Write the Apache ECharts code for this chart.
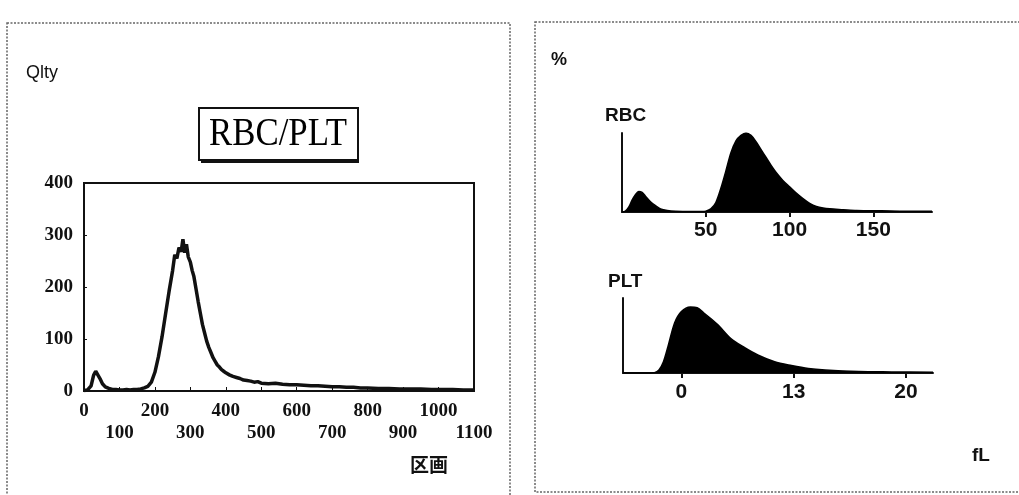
<!DOCTYPE html>
<html><head><meta charset="utf-8">
<script src="https://cdn.jsdelivr.net/npm/echarts@6/dist/echarts.min.js"></script>
<style>html,body{margin:0;padding:0;background:#fff}#c{width:1019px;height:495px}</style>
</head><body><div id="c"></div>
<script>
// Left histogram (RBC/PLT, channel vs quantity)
const LEFT_X = [0,10,20,27,33,38,45,52,60,70,80,90,100,110,120,130,140,150,160,170,180,190,200,210,220,230,240,250,256,262,268,274,279,284,289,294,300,305,310,316,322,328,334,340,346,352,358,364,370,376,382,388,394,400,410,420,430,440,450,460,470,480,490,500,520,540,560,580,600,620,640,660,680,700,720,740,760,780,800,830,860,890,920,950,980,1010,1040,1070,1100];
const LEFT_Y = [1,2,10,30,38,36,24,14,8,5,3,3,2,2,3,2,3,3,4,6,9,17,36,66,104,148,192,232,262,255,276,268,292,266,282,258,248,232,220,196,172,150,128,112,96,84,74,64,57,50,46,41,38,35,31,28,26,24,21,20,19,17,18,15,14,15,13,12,12,11,10,10,9,8,8,7,7,6,6,5,5,4,4,4,3,3,3,2,2];
const LEFT_X_MIN = 0, LEFT_X_MAX = 1100, LEFT_X_STEP = 100;
const LEFT_X_LABELS_UPPER = [0,200,400,600,800,1000];
const LEFT_X_LABELS_LOWER = [100,300,500,700,900,1100];
const LEFT_Y_MIN = 0, LEFT_Y_MAX = 400, LEFT_Y_STEP = 100;

// Right top: RBC distribution (fL vs %)
const RBC_X = [0,2,4,6,8,10,12,14,17,20,23,27,32,40,48,50,53,56,59,62,65,68,71,74,77,80,83,86,89,92,96,100,104,108,112,116,120,124,132,140,155,170,185];
const RBC_Y = [0,1,6,15,22,26,25,20,13,8,4,2,1,0.5,0.5,1,4,12,30,52,75,90,97,100,97,89,79,69,59,50,40,32,24,17,11,7,5,4,3,2,1.5,1,1];
const RBC_TICKS = [50,100,150];

// Right bottom: PLT distribution
const PLT_X = [-5.2,-3,-2.4,-2,-1.6,-1.2,-0.6,0,0.8,1.4,2,3.2,4.4,5.6,6.8,8.3,9.8,11.3,12.8,15.8,18.7,22.4];
const PLT_Y = [0,0,0.5,4,15,35,67,82,88,87,80,65,46,34,24,15,10,6,4,2,1.5,1];
const PLT_TICK_VALUES = [0,10,20];
const PLT_TICK_LABELS = ['0','13','20'];

const pairs = (xs, ys) => xs.map((x, i) => [x, ys[i]]);
const INK = '#111';
const SERIF = '"Liberation Serif","Times New Roman",serif';
const SANS = '"Liberation Sans",Arial,sans-serif';
const leftLabel = {color: INK, fontFamily: SERIF, fontWeight: 'bold', fontSize: 19, showMinLabel: true, showMaxLabel: true,
  hideOverlap: false, formatter: v => String(v)};

const chart = echarts.init(document.getElementById('c'));
chart.setOption({
  animation: false,
  backgroundColor: '#fff',
  grid: [
    {left: 84, top: 183, width: 390, height: 208, show: true, borderColor: INK, borderWidth: 2, backgroundColor: 'transparent'},
    {left: 622, top: 133, width: 310, height: 79},
    {left: 623, top: 298, width: 310, height: 75}
  ],
  xAxis: [
    {gridIndex: 0, type: 'value', position: 'bottom', min: LEFT_X_MIN, max: LEFT_X_MAX, interval: LEFT_X_STEP,
     axisLine: {show: true, lineStyle: {color: INK, width: 2}},
     axisTick: {show: true, inside: true, length: 4, lineStyle: {color: INK}},
     splitLine: {show: false},
     axisLabel: Object.assign({customValues: LEFT_X_LABELS_UPPER, margin: 11}, leftLabel)},
    {gridIndex: 0, type: 'value', position: 'bottom', min: LEFT_X_MIN, max: LEFT_X_MAX,
     axisLine: {show: false}, axisTick: {show: false}, splitLine: {show: false},
     axisLabel: Object.assign({customValues: LEFT_X_LABELS_LOWER, margin: 33}, leftLabel)},
    {gridIndex: 1, type: 'value', min: 0, max: 185,
     axisLine: {show: true, onZero: false, lineStyle: {color: INK, width: 2}},
     axisTick: {show: true, length: 5, customValues: RBC_TICKS, lineStyle: {color: INK, width: 2}},
     splitLine: {show: false},
     axisLabel: {customValues: RBC_TICKS, color: INK, fontFamily: SANS, fontWeight: 'bold', fontSize: 21, margin: 8}},
    {gridIndex: 2, type: 'value', min: -5.2, max: 22.4,
     axisLine: {show: true, onZero: false, lineStyle: {color: INK, width: 2}},
     axisTick: {show: true, length: 5, customValues: PLT_TICK_VALUES, lineStyle: {color: INK, width: 2}},
     splitLine: {show: false},
     axisLabel: {customValues: PLT_TICK_VALUES, color: INK, fontFamily: SANS, fontWeight: 'bold', fontSize: 21, margin: 9,
       formatter: v => PLT_TICK_LABELS[PLT_TICK_VALUES.indexOf(v)] ?? ''}}
  ],
  yAxis: [
    {gridIndex: 0, type: 'value', min: LEFT_Y_MIN, max: LEFT_Y_MAX, interval: LEFT_Y_STEP,
     axisLine: {show: true, onZero: false, lineStyle: {color: INK, width: 2}},
     axisTick: {show: true, inside: true, length: 3, lineStyle: {color: INK}},
     splitLine: {show: false},
     axisLabel: {color: INK, fontFamily: SERIF, fontWeight: 'bold', fontSize: 19, margin: 11}},
    {gridIndex: 1, type: 'value', min: 0, max: 100,
     axisLine: {show: true, onZero: false, lineStyle: {color: INK, width: 2}},
     axisTick: {show: false}, axisLabel: {show: false}, splitLine: {show: false}},
    {gridIndex: 2, type: 'value', min: 0, max: 100,
     axisLine: {show: true, onZero: false, lineStyle: {color: INK, width: 2}},
     axisTick: {show: false}, axisLabel: {show: false}, splitLine: {show: false}}
  ],
  series: [
    {type: 'line', xAxisIndex: 0, yAxisIndex: 0, data: pairs(LEFT_X, LEFT_Y), showSymbol: false,
     lineStyle: {color: INK, width: 3.5}},
    {type: 'line', xAxisIndex: 2, yAxisIndex: 1, data: pairs(RBC_X, RBC_Y), showSymbol: false, smooth: 0.3,
     lineStyle: {color: '#000', width: 1.5}, areaStyle: {color: '#000', opacity: 1}},
    {type: 'line', xAxisIndex: 3, yAxisIndex: 2, data: pairs(PLT_X, PLT_Y), showSymbol: false, smooth: 0.3,
     lineStyle: {color: '#000', width: 1.5}, areaStyle: {color: '#000', opacity: 1}}
  ],
  graphic: [
    {type: 'rect', shape: {x: 7, y: 23, width: 503, height: 490}, silent: true,
     style: {fill: 'none', stroke: '#666', lineWidth: 1.5, lineDash: [2, 1.5]}},
    {type: 'rect', shape: {x: 535, y: 22, width: 500, height: 470}, silent: true,
     style: {fill: 'none', stroke: '#666', lineWidth: 1.5, lineDash: [2, 1.5]}},
    {type: 'rect', shape: {x: 199, y: 108, width: 159, height: 52}, silent: true,
     style: {fill: '#fff', stroke: INK, lineWidth: 2}},
    {type: 'line', shape: {x1: 201, y1: 162, x2: 359, y2: 162}, silent: true,
     style: {stroke: INK, lineWidth: 2}},
    {type: 'text', x: 278, y: 134, scaleX: 0.87, silent: true,
     style: {text: 'RBC/PLT', x: 0, y: 0, fill: '#000', font: '40px ' + SERIF, textAlign: 'center', textVerticalAlign: 'middle'}},
    {type: 'text', silent: true,
     style: {text: 'Qlty', x: 26, y: 73, fill: INK, font: '18px ' + SANS, textAlign: 'left', textVerticalAlign: 'middle'}},
    {type: 'text', silent: true,
     style: {text: '区画', x: 429, y: 465, fill: INK, font: 'bold 19px "Noto Sans CJK JP"', textAlign: 'center', textVerticalAlign: 'middle'}},
    {type: 'text', silent: true,
     style: {text: '%', x: 551, y: 60, fill: INK, font: 'bold 18px ' + SANS, textAlign: 'left', textVerticalAlign: 'middle'}},
    {type: 'text', silent: true,
     style: {text: 'RBC', x: 605, y: 116, fill: INK, font: 'bold 19px ' + SANS, textAlign: 'left', textVerticalAlign: 'middle'}},
    {type: 'text', silent: true,
     style: {text: 'PLT', x: 608, y: 282, fill: INK, font: 'bold 19px ' + SANS, textAlign: 'left', textVerticalAlign: 'middle'}},
    {type: 'text', silent: true,
     style: {text: 'fL', x: 972, y: 456, fill: INK, font: 'bold 19px ' + SANS, textAlign: 'left', textVerticalAlign: 'middle'}}
  ]
});
</script>
</body></html>
